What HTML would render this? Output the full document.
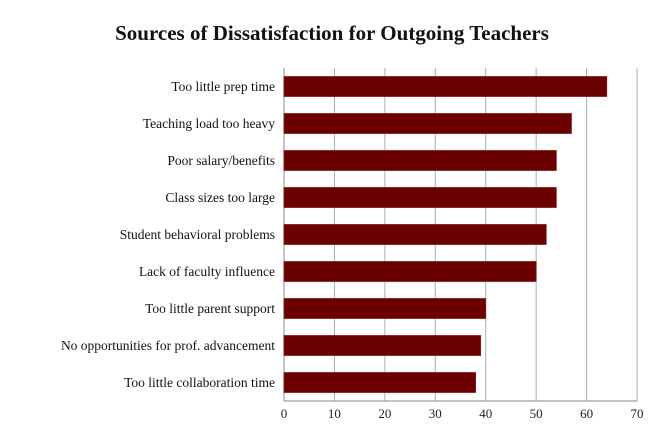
<!DOCTYPE html>
<html><head><meta charset="utf-8"><style>
body{margin:0;background:#fff;}
svg{display:block;font-family:"Liberation Serif",serif;}
</style></head><body>
<svg id="chart" width="663" height="442">
<rect x="0" y="0" width="663" height="442" fill="#fff"/>
<text x="332" y="40" text-anchor="middle" font-size="21" font-weight="bold" fill="#111">Sources of Dissatisfaction for Outgoing Teachers</text>
</svg>
<script>
const categories=["Too little prep time","Teaching load too heavy","Poor salary/benefits","Class sizes too large","Student behavioral problems","Lack of faculty influence","Too little parent support","No opportunities for prof. advancement","Too little collaboration time"];
const values=[64,57,54,54,52,50,40,39,38];
const ticks=[0,10,20,30,40,50,60,70];
const svg=document.getElementById('chart');
const NS='http://www.w3.org/2000/svg';
const x0=284,x1=637,xmax=70,plotTop=68,plotBottom=401;
const xs=v=>x0+(v/xmax)*(x1-x0);
const band=(plotBottom-plotTop)/categories.length;
function mk(t,a){const e=document.createElementNS(NS,t);for(const k in a)e.setAttribute(k,a[k]);svg.appendChild(e);return e;}
ticks.forEach(t=>{
 const g=mk('line',{x1:xs(t),x2:xs(t),y1:plotTop,y2:plotBottom,stroke:t===0?'#888':'#a9acb3','stroke-width':1});
 
 
 const tl=mk('text',{x:xs(t),y:418,'text-anchor':'middle','font-size':13,fill:'#222'});
 tl.textContent=t;
 
 
});
const ax=mk('line',{x1:x0,x2:x1,y1:plotBottom,y2:plotBottom,stroke:'#888','stroke-width':1});


categories.forEach((c,i)=>{
 const cy=plotTop+band*(i+0.5);
 const b=mk('rect',{x:x0,y:cy-10,width:xs(values[i])-x0,height:20,fill:'#6b0000',stroke:'#8a1c1c','stroke-width':0.8});
 
 
 const l=mk('text',{x:275,y:cy+4.5,'text-anchor':'end','font-size':13.5,fill:'#111'});
 l.textContent=c;
 
 
});
</script>
</body></html>
